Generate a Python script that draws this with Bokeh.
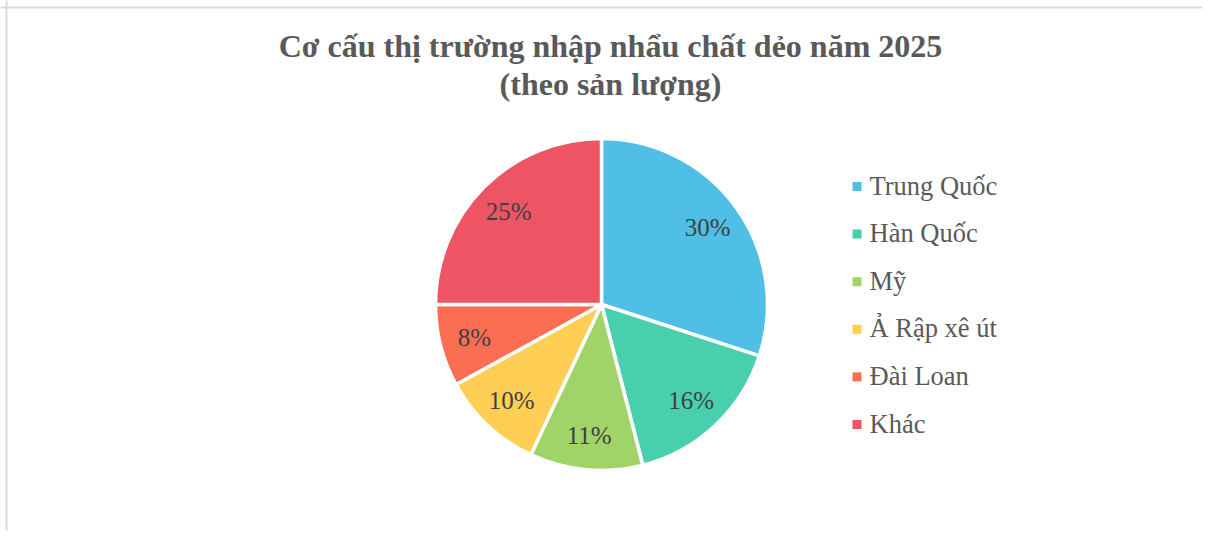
import math
from bokeh.plotting import figure
from bokeh.models import Range1d, Span, ColumnDataSource
from bokeh.core.properties import value
from bokeh.embed import file_html
from bokeh.resources import INLINE

# ---- data ----
title_lines = ["Cơ cấu thị trường nhập nhẩu chất dẻo năm 2025", "(theo sản lượng)"]
categories = ["Trung Quốc", "Hàn Quốc", "Mỹ", "Ả Rập xê út", "Đài Loan", "Khác"]
shares = [30, 16, 11, 10, 8, 25]
colors = ["#4FBFE6", "#48CFAE", "#A0D468", "#FFCE54", "#FC6E51", "#ED5565"]

W, H = 1202, 531
FONT = value("Liberation Serif")

p = figure(width=W, height=H, x_range=Range1d(0, W), y_range=Range1d(0, H),
           output_backend="svg", toolbar_location=None, min_border=0)
p.axis.visible = False
p.grid.visible = False
p.outline_line_color = None
p.background_fill_color = "white"
p.border_fill_color = "white"

# chart area border (left and top visible)
p.add_layout(Span(location=6, dimension="height", line_color="#d9d9d9", line_width=2))
p.add_layout(Span(location=H - 7, dimension="width", line_color="#d9d9d9", line_width=2))

# ---- pie ----
cx, cy, R = 601, H - 304, 166
total = sum(shares)
starts, ends, lx, ly, labels = [], [], [], [], []
cum = 0.0
for s in shares:
    a0 = math.pi / 2 - 2 * math.pi * cum / total
    a1 = math.pi / 2 - 2 * math.pi * (cum + s) / total
    mid = (a0 + a1) / 2
    starts.append(a0)
    ends.append(a1)
    lx.append(cx + 0.79 * R * math.cos(mid))
    ly.append(cy + 0.79 * R * math.sin(mid))
    labels.append(f"{s}%")
    cum += s

src = ColumnDataSource(dict(start=starts, end=ends, color=colors, cat=categories))
p.wedge(x=cx, y=cy, radius=R, start_angle="start", end_angle="end",
        direction="clock", fill_color="color", line_color="white", line_width=3.5,
        source=src)

p.text(x=lx, y=ly, text=labels, text_font=FONT, text_font_size="25px",
       text_color="#404040", text_align="center", text_baseline="middle")

# ---- title ----
p.text(x=[610, 610], y=[H - 45, H - 83], text=title_lines, text_font=FONT,
       text_font_size="32px", text_font_style="bold", text_color="#595959",
       text_align="center", text_baseline="alphabetic")

# ---- legend ----
ly0, step = H - 186, 47.6
leg_y = [ly0 - i * step for i in range(len(categories))]
p.scatter(x=[856.5] * len(categories), y=leg_y, marker="square", size=9,
          fill_color=colors, line_color=None)
p.text(x=[869] * len(categories), y=[v + 1 for v in leg_y], text=categories,
       text_font=FONT, text_font_size="26.5px", text_color="#595959",
       text_align="left", text_baseline="alphabetic")

open("out.html", "w").write(file_html(p, INLINE))
